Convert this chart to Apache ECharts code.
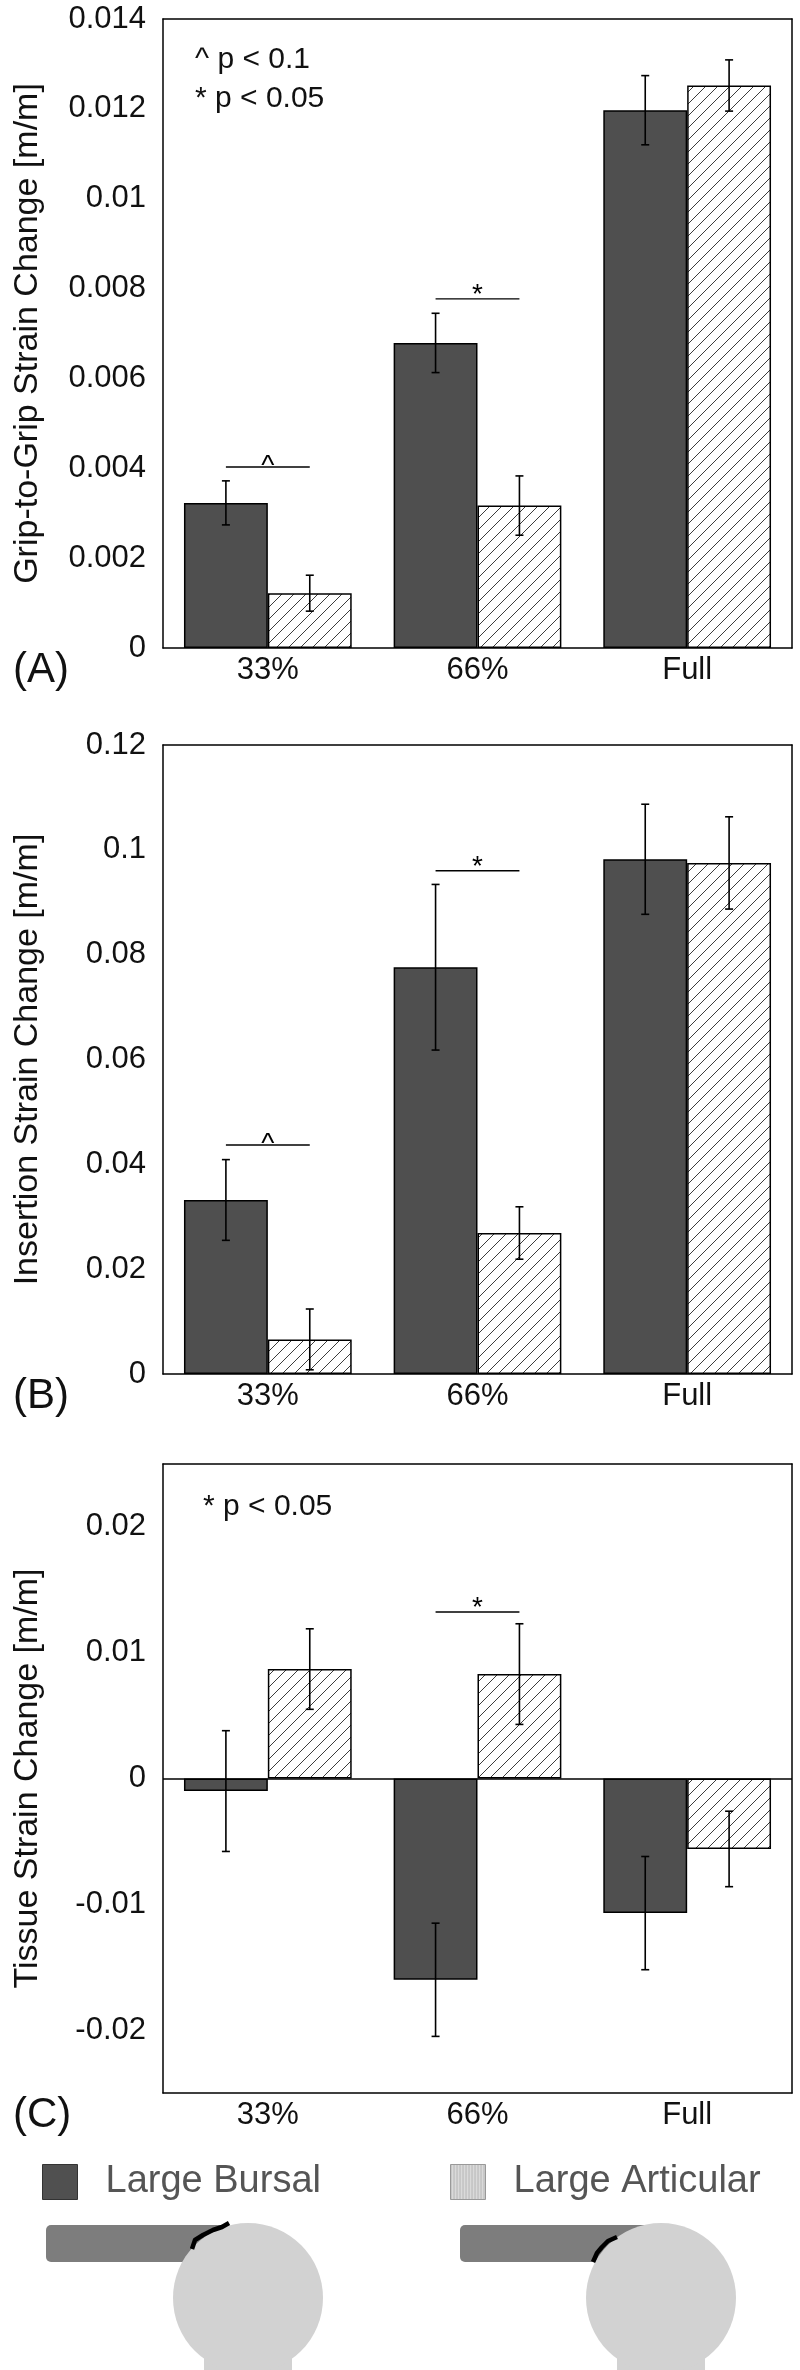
<!DOCTYPE html>
<html>
<head>
<meta charset="utf-8">
<script src="https://cdn.jsdelivr.net/npm/echarts@6/dist/echarts.min.js"></script>
<style>
html,body{margin:0;padding:0;background:#fff;}
#chart{width:800px;height:2370px;}
</style>
</head>
<body>
<div id="chart"></div>
<script>
// ---- data ----
const categories = ['33%', '66%', 'Full'];
const seriesNames = ['Large Bursal', 'Large Articular'];

const gripBursal = [0.00323, 0.00679, 0.01197];
const gripBursalErr = [0.00049, 0.00066, 0.00077];
const gripArticular = [0.00122, 0.00317, 0.01252];
const gripArticularErr = [0.00040, 0.00066, 0.00057];
const gripSig = [[0, 0.00403, '^'], [1, 0.00777, '*']];

const insBursal = [0.0332, 0.0776, 0.0982];
const insBursalErr = [0.0077, 0.0158, 0.0105];
const insArticular = [0.0066, 0.0269, 0.0975];
const insArticularErr = [0.0058, 0.0050, 0.0088];
const insSig = [[0, 0.0437, '^'], [1, 0.0960, '*']];

const tisBursal = [-0.0010, -0.0160, -0.0107];
const tisBursalErr = [0.0048, 0.0045, 0.0045];
const tisArticular = [0.0087, 0.0083, -0.0056];
const tisArticularErr = [0.0032, 0.0040, 0.0030];
const tisSig = [[1, 0.01323, '*']];

const gripTicks = [0, 0.002, 0.004, 0.006, 0.008, 0.01, 0.012, 0.014];
const insTicks = [0, 0.02, 0.04, 0.06, 0.08, 0.1, 0.12];
const tisTicks = [-0.02, -0.01, 0, 0.01, 0.02];

// ---- styles ----
const FONT = 'Liberation Sans, Arial, sans-serif';
const TXT = '#111';
function makeHatch() {
  const c = document.createElement('canvas');
  c.width = 12; c.height = 12;
  const ctx = c.getContext('2d');
  ctx.fillStyle = '#ffffff';
  ctx.fillRect(0, 0, 12, 12);
  ctx.strokeStyle = '#3c3c3c';
  ctx.lineWidth = 1;
  ctx.beginPath();
  ctx.moveTo(0, 12); ctx.lineTo(12, 0);
  ctx.moveTo(-2, 2); ctx.lineTo(2, -2);
  ctx.moveTo(10, 14); ctx.lineTo(14, 10);
  ctx.stroke();
  return c;
}
function makeStripes() {
  const c = document.createElement('canvas');
  c.width = 3; c.height = 3;
  const ctx = c.getContext('2d');
  ctx.fillStyle = '#dadada';
  ctx.fillRect(0, 0, 3, 3);
  ctx.fillStyle = '#b4b4b4';
  ctx.fillRect(0, 0, 1, 3);
  return c;
}
const hatchPattern = { image: makeHatch(), repeat: 'repeat' };
const stripePattern = { image: makeStripes(), repeat: 'repeat' };

const panels = [
  { yName: 'Grip-to-Grip Strain Change [m/m]', min: 0, max: 0.014, interval: 0.002, ticks: gripTicks,
    bursal: gripBursal, bursalErr: gripBursalErr, articular: gripArticular, articularErr: gripArticularErr,
    sig: gripSig, top: 19, tag: '(A)', zeroLine: false },
  { yName: 'Insertion Strain Change [m/m]', min: 0, max: 0.12, interval: 0.02, ticks: insTicks,
    bursal: insBursal, bursalErr: insBursalErr, articular: insArticular, articularErr: insArticularErr,
    sig: insSig, top: 745, tag: '(B)', zeroLine: false },
  { yName: 'Tissue Strain Change [m/m]', min: -0.025, max: 0.025, interval: 0.005, ticks: tisTicks,
    bursal: tisBursal, bursalErr: tisBursalErr, articular: tisArticular, articularErr: tisArticularErr,
    sig: tisSig, top: 1464, tag: '(C)', zeroLine: true }
];

const GL = 163, GW = 629, GH = 629;
const grids = [], xAxes = [], yAxes = [], series = [], graphics = [];
const curSig = {};

function errRender(sign) {
  return function (params, api) {
    const idx = api.value(0), v = api.value(1), e = api.value(2);
    const band = api.size([1, 0])[0];
    const cx = api.coord([idx, v])[0] + sign * band * 0.2;
    const yt = api.coord([idx, v + e])[1];
    const yb = api.coord([idx, v - e])[1];
    const st = { stroke: '#000', lineWidth: 1.6 };
    return { type: 'group', children: [
      { type: 'line', shape: { x1: cx, y1: yt, x2: cx, y2: yb }, style: st },
      { type: 'line', shape: { x1: cx - 4, y1: yt, x2: cx + 4, y2: yt }, style: st },
      { type: 'line', shape: { x1: cx - 4, y1: yb, x2: cx + 4, y2: yb }, style: st }
    ] };
  };
}
function sigRender(params, api) {
  const idx = api.value(0), v = api.value(1);
  const mark = curSig[params.seriesName][params.dataIndex][2];
  const band = api.size([1, 0])[0];
  const p = api.coord([idx, v]);
  const x1 = p[0] - band * 0.2, x2 = p[0] + band * 0.2;
  return { type: 'group', children: [
    { type: 'line', shape: { x1: x1, y1: p[1], x2: x2, y2: p[1] }, style: { stroke: '#000', lineWidth: 1.4 } },
    { type: 'text', x: p[0], y: p[1] + (mark === '^' ? -1 : -4),
      style: { text: mark, fontSize: 28, fontFamily: FONT, fill: '#000', align: 'center', verticalAlign: 'middle' } }
  ] };
}

panels.forEach(function (pn, i) {
  grids.push({ left: GL, top: pn.top, width: GW, height: GH });
  const axisLineStyle = { color: '#000', width: 1.5 };
  xAxes.push({
    type: 'category', gridIndex: i, position: 'bottom', data: categories,
    axisLine: { onZero: false, lineStyle: axisLineStyle },
    axisTick: { inside: true, length: 10, lineStyle: axisLineStyle },
    axisLabel: { fontSize: 31, fontFamily: FONT, color: TXT, margin: 7 },
    splitLine: { show: false }
  });
  xAxes.push({
    type: 'category', gridIndex: i, position: 'top', data: categories,
    axisLine: { onZero: false, lineStyle: axisLineStyle },
    axisTick: { inside: true, length: 10, lineStyle: axisLineStyle },
    axisLabel: { show: false }, splitLine: { show: false }
  });
  yAxes.push({
    type: 'value', gridIndex: i, position: 'left', min: pn.min, max: pn.max, interval: pn.interval,
    name: pn.yName, nameLocation: 'middle', nameGap: 118,
    nameTextStyle: { fontSize: 34, fontFamily: FONT, color: TXT },
    axisLine: { show: true, onZero: false, lineStyle: axisLineStyle },
    axisTick: { inside: true, length: 10, lineStyle: axisLineStyle, customValues: pn.ticks },
    axisLabel: { fontSize: 31, fontFamily: FONT, color: TXT, margin: 17, customValues: pn.ticks },
    splitLine: { show: false }
  });
  yAxes.push({
    type: 'value', gridIndex: i, position: 'right', min: pn.min, max: pn.max, interval: pn.interval,
    axisLine: { show: true, onZero: false, lineStyle: axisLineStyle },
    axisTick: { inside: true, length: 10, lineStyle: axisLineStyle, customValues: pn.ticks },
    axisLabel: { show: false }, splitLine: { show: false }
  });
  const xi = 2 * i, yi = 2 * i;
  const bursalSeries = {
    name: seriesNames[0], type: 'bar', xAxisIndex: xi, yAxisIndex: yi,
    data: pn.bursal, barCategoryGap: '20%', barGap: '0%',
    itemStyle: { color: '#4f4f4f', borderColor: '#000', borderWidth: 1.5 },
    silent: true, z: 2
  };
  if (pn.zeroLine) {
    bursalSeries.markLine = { silent: true, symbol: 'none', label: { show: false },
      lineStyle: { color: '#000', width: 1.5, type: 'solid' }, data: [{ yAxis: 0 }] };
  }
  series.push(bursalSeries);
  series.push({
    name: seriesNames[1], type: 'bar', xAxisIndex: xi, yAxisIndex: yi,
    data: pn.articular, barCategoryGap: '20%', barGap: '0%',
    itemStyle: { color: hatchPattern, borderColor: '#000', borderWidth: 1.5 },
    silent: true, z: 2
  });
  series.push({
    name: 'errB' + i, type: 'custom', xAxisIndex: xi, yAxisIndex: yi, z: 5, silent: true,
    renderItem: errRender(-1),
    data: pn.bursal.map(function (v, k) { return [k, v, pn.bursalErr[k]]; })
  });
  series.push({
    name: 'errA' + i, type: 'custom', xAxisIndex: xi, yAxisIndex: yi, z: 5, silent: true,
    renderItem: errRender(1),
    data: pn.articular.map(function (v, k) { return [k, v, pn.articularErr[k]]; })
  });
  curSig['sig' + i] = pn.sig;
  series.push({
    name: 'sig' + i, type: 'custom', xAxisIndex: xi, yAxisIndex: yi, z: 5, silent: true,
    renderItem: sigRender,
    data: pn.sig.map(function (s) { return [s[0], s[1]]; })
  });
  graphics.push({ type: 'text', left: 13, top: pn.top + GH + 1,
    style: { text: pn.tag, fontSize: 42, fontFamily: FONT, fill: TXT } });
});

// significance keys
graphics.push({ type: 'text', x: 195, y: 75, style: { text: '^ p < 0.1', fontSize: 30, fontFamily: FONT, fill: TXT, verticalAlign: 'bottom' } });
graphics.push({ type: 'text', x: 195, y: 114, style: { text: '* p < 0.05', fontSize: 30, fontFamily: FONT, fill: TXT, verticalAlign: 'bottom' } });
graphics.push({ type: 'text', x: 203, y: 1522, style: { text: '* p < 0.05', fontSize: 30, fontFamily: FONT, fill: TXT, verticalAlign: 'bottom' } });

// shoulder illustrations
function shoulder(cx, tendonLeft, tendonRight, crack) {
  const headFill = '#d2d2d2';
  return [
    { type: 'rect', shape: { x: tendonLeft, y: 2225, width: tendonRight - tendonLeft, height: 37, r: 5 },
      style: { fill: '#7d7d7d' }, z: 1 },
    { type: 'rect', shape: { x: cx - 44, y: 2330, width: 88, height: 40 }, style: { fill: headFill }, z: 2 },
    { type: 'circle', shape: { cx: cx, cy: 2298, r: 75 }, style: { fill: headFill }, z: 2 },
    { type: 'polyline', shape: { points: crack }, style: { stroke: '#000', lineWidth: 4.5, fill: null, lineJoin: 'round' }, z: 3 }
  ];
}
shoulder(248, 46, 232, [[192, 2249], [195, 2240], [203, 2235], [213, 2230], [222, 2227], [229, 2223]]).forEach(function (g) { graphics.push(g); });
shoulder(661, 460, 655, [[593, 2262], [597, 2253], [602, 2247], [608, 2241], [617, 2237]]).forEach(function (g) { graphics.push(g); });

const legendText = { fontSize: 38, fontFamily: FONT, color: '#555', padding: [0, 0, 0, 23] };
const option = {
  animation: false,
  backgroundColor: '#fff',
  grid: grids,
  xAxis: xAxes,
  yAxis: yAxes,
  legend: [
    { left: 37, top: 2158, itemWidth: 35, itemHeight: 35, selectedMode: false, icon: 'rect',
      textStyle: legendText,
      data: [{ name: seriesNames[0], itemStyle: { color: '#505050', borderColor: '#333', borderWidth: 1 } }] },
    { left: 445, top: 2158, itemWidth: 35, itemHeight: 35, selectedMode: false, icon: 'rect',
      textStyle: legendText,
      data: [{ name: seriesNames[1], itemStyle: { color: stripePattern, borderColor: '#999', borderWidth: 1 } }] }
  ],
  series: series,
  graphic: graphics
};
const chart = echarts.init(document.getElementById('chart'), null, { renderer: 'canvas' });
chart.setOption(option);
</script>
</body>
</html>
